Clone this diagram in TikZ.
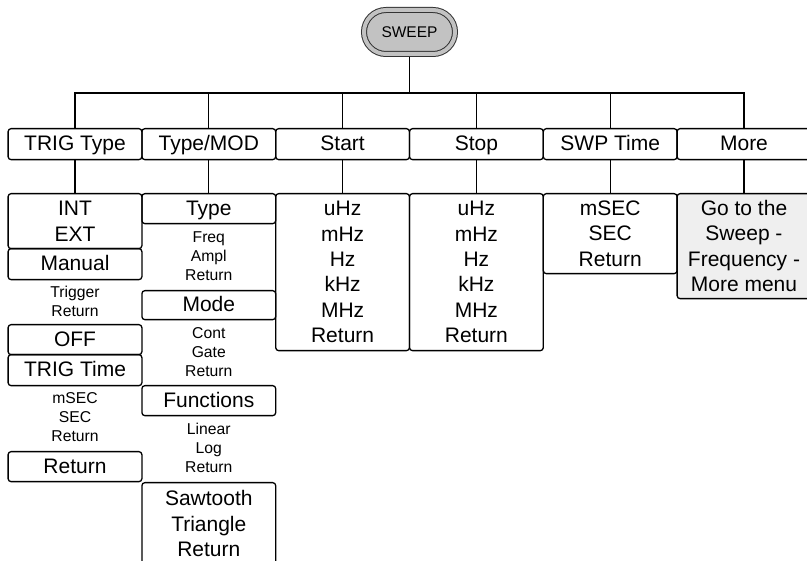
\documentclass[tikz,border=0pt]{standalone}
\usepackage{fontspec}
\setmainfont{Liberation Sans}
\definecolor{swgray}{HTML}{C2C2C2}
\definecolor{morefill}{HTML}{EFEFEF}
\begin{document}
\begin{tikzpicture}[x=1pt,y=-1pt,
  box/.style={draw=black, line width=1.3pt, rounded corners=3pt, minimum width=133.8pt, inner sep=0pt, align=center, font=\fontsize{21}{25.4}\selectfont, anchor=north},
  one/.style={box, text height=16pt, text depth=3pt},
  small/.style={align=center, font=\fontsize{15.7}{19}\selectfont, inner sep=0pt},
  link/.style={line width=1.3pt}]
\clip (0,0) rectangle (807,561);
% root
\node[draw=black!80, line width=1pt, double=swgray, double distance=4pt, fill=swgray,
      rounded corners=22pt, minimum width=91pt, minimum height=44pt, inner sep=0pt,
      font=\fontsize{15.5}{18}\selectfont] (sweep) at (409.5,32) {SWEEP};
% top row
\node[one, minimum height=31pt] (tt) at (75,128) {TRIG Type};
\node[one, minimum height=31pt] (tm) at (208.8,128) {Type/MOD};
\node[one, minimum height=31pt] (st) at (342.6,128) {Start};
\node[one, minimum height=31pt] (sp) at (476.4,128) {Stop};
\node[one, minimum height=31pt] (sw) at (610.2,128) {SWP Time};
\node[one, minimum height=31pt] (mo) at (744,128) {More};
% column 1
\node[box, minimum height=55pt] (intext) at (75,193) {INT\\EXT};
\node[one, minimum height=31pt] (manual) at (75,248) {Manual};
\node[small] (trigret) at (75,301.5) {Trigger\\Return};
\node[one, minimum height=30pt] (off) at (75,324) {OFF};
\node[one, minimum height=31pt] (trigtime) at (75,354) {TRIG Time};
\node[small] (ttunits) at (75,417) {mSEC\\SEC\\Return};
\node[one, minimum height=30pt] (ret1) at (75,451) {Return};
% column 2
\node[one, minimum height=30pt] (type) at (208.8,193) {Type};
\node[small] (typeopts) at (208.8,256) {Freq\\Ampl\\Return};
\node[one, minimum height=29pt] (mode) at (208.8,290) {Mode};
\node[small] (modeopts) at (208.8,352) {Cont\\Gate\\Return};
\node[one, minimum height=30pt] (func) at (208.8,385) {Functions};
\node[small] (funcopts) at (208.8,448) {Linear\\Log\\Return};
\node[box, minimum height=82pt] (shape) at (208.8,482) {Sawtooth\\Triangle\\Return};
% column 3 - 6
\node[box, minimum height=157pt] (stunits) at (342.6,193) {uHz\\mHz\\Hz\\kHz\\MHz\\Return};
\node[box, minimum height=157pt] (spunits) at (476.4,193) {uHz\\mHz\\Hz\\kHz\\MHz\\Return};
\node[box, minimum height=80pt] (swunits) at (610.2,193) {mSEC\\SEC\\Return};
\node[box, minimum height=105pt, fill=morefill] (moremenu) at (744,193) {Go to the\\Sweep -\\Frequency -\\More menu};
% connectors
\coordinate (bus) at (409.5,93);
\draw[link, shorten <=3pt] (sweep.south) -- (bus);
\foreach \n in {tt,tm,st,sp,sw,mo} \draw[link] (\n.north) |- (bus);
\draw[link] (tt.south) -- (intext.north);
\draw[link] (tm.south) -- (type.north);
\draw[link] (st.south) -- (stunits.north);
\draw[link] (sp.south) -- (spunits.north);
\draw[link] (sw.south) -- (swunits.north);
\draw[link] (mo.south) -- (moremenu.north);
\end{tikzpicture}
\end{document}
